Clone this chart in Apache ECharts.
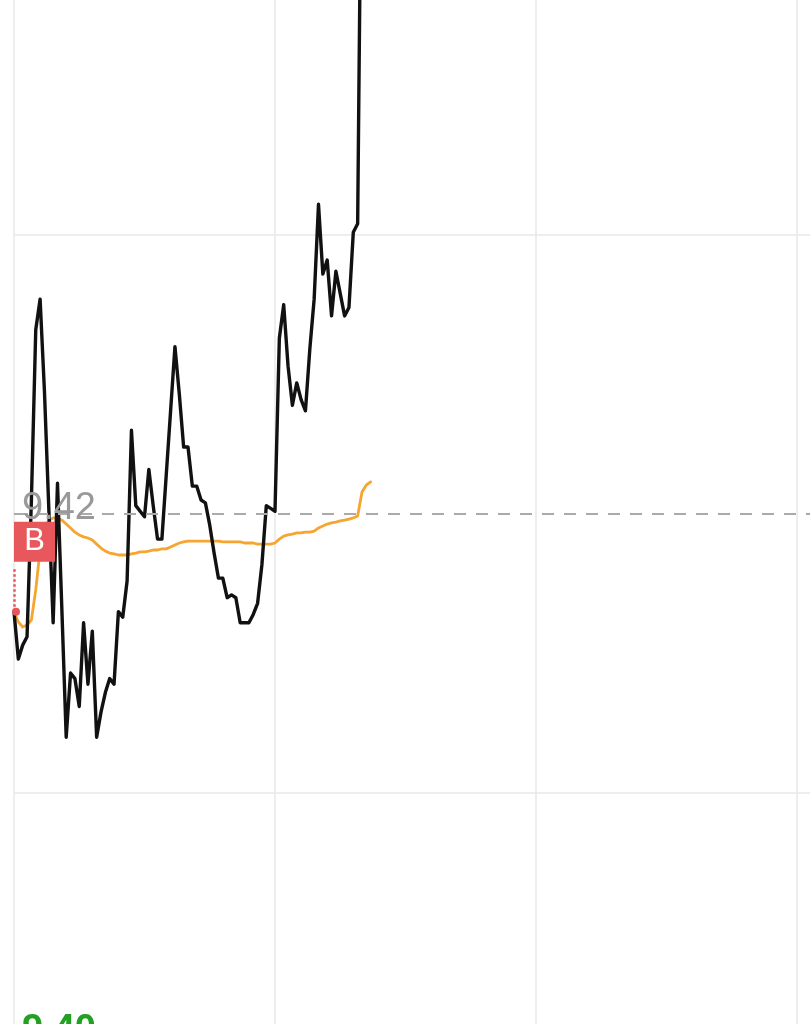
<!DOCTYPE html>
<html>
<head>
<meta charset="utf-8">
<script src="https://cdn.jsdelivr.net/npm/echarts@6/dist/echarts.min.js"></script>
<style>
html,body{margin:0;padding:0;background:#fff;}
#chart{width:810px;height:1024px;}
</style>
</head>
<body>
<div id="chart"></div>
<script>
// Intraday minute prices (index = minute from open)
const price = [
  9.4165, 9.4148, 9.4153, 9.4156, 9.4205, 9.4266, 9.4277, 9.4244, 9.4202, 9.4161,
  9.4211, 9.4166, 9.4120, 9.4143, 9.4141, 9.4131, 9.4161, 9.4139, 9.4158, 9.4120,
  9.4129, 9.4136, 9.4141, 9.4139, 9.4165, 9.4163, 9.4176, 9.4230, 9.4203, 9.4201,
  9.4199, 9.4216, 9.4203, 9.4191, 9.4191, 9.4214, 9.4237, 9.4260, 9.4243, 9.4224,
  9.4224, 9.4210, 9.4210, 9.4205, 9.4204, 9.4196, 9.4186, 9.4177, 9.4177, 9.4170,
  9.4171, 9.4170, 9.4161, 9.4161, 9.4161, 9.4164, 9.4168, 9.4182, 9.4203, 9.4202,
  9.4201, 9.4263, 9.4275, 9.4253, 9.4239, 9.4247, 9.4241, 9.4237, 9.4259, 9.4277,
  9.4311, 9.4286, 9.4291, 9.4271, 9.4287, 9.4279, 9.4271, 9.4274, 9.4301, 9.4304,
  9.4470, 9.4480, 9.4475
];
// Average price line
const avgPrice = [
  9.41649, 9.41613, 9.41595, 9.41602, 9.41620, 9.41728, 9.41871, 9.41950, 9.41978, 9.41986,
  9.41986, 9.41978, 9.41964, 9.41950, 9.41935, 9.41925, 9.41918, 9.41914, 9.41907, 9.41892,
  9.41878, 9.41867, 9.41860, 9.41857, 9.41853, 9.41853, 9.41853, 9.41857, 9.41860, 9.41864,
  9.41864, 9.41867, 9.41871, 9.41871, 9.41875, 9.41875, 9.41882, 9.41889, 9.41896, 9.41900,
  9.41903, 9.41903, 9.41903, 9.41903, 9.41903, 9.41903, 9.41903, 9.41903, 9.41900, 9.41900,
  9.41900, 9.41900, 9.41900, 9.41896, 9.41896, 9.41896, 9.41892, 9.41892, 9.41892, 9.41892,
  9.41896, 9.41910, 9.41921, 9.41925, 9.41928, 9.41932, 9.41932, 9.41935, 9.41935, 9.41939,
  9.41950, 9.41957, 9.41964, 9.41968, 9.41971, 9.41975, 9.41978, 9.41982, 9.41986, 9.41993,
  9.42079, 9.42104, 9.42115
];
const prevClose = 9.42;
const yMin = 9.40, yMax = 9.44, yStep = 0.01;
const totalMinutes = 240, xStep = 60;
const buyIndex = 0;
const buyLabel = 'B';

const chart = echarts.init(document.getElementById('chart'));
const FONT = '"Liberation Sans", Arial, sans-serif';

chart.setOption({
  animation: false,
  backgroundColor: '#fff',
  grid: { left: 14, top: -44, width: 1044, height: 1116, containLabel: false, outerBoundsMode: 'none' },
  xAxis: {
    type: 'value', min: 0, max: totalMinutes, interval: xStep,
    axisLine: { show: false }, axisTick: { show: false }, axisLabel: { show: false },
    splitLine: { show: true, lineStyle: { color: '#e9e9e9', width: 1.5 } }
  },
  yAxis: {
    type: 'value', min: yMin, max: yMax, interval: yStep, scale: true,
    axisLine: { show: false }, axisTick: { show: false },
    axisLabel: {
      inside: true, showMinLabel: true,
      formatter: function (v) { return Math.abs(v - yMin) < 1e-6 ? yMin.toFixed(2) : ''; },
      color: '#22a022', fontSize: 38, fontWeight: 'bold', fontFamily: FONT,
      verticalAlign: 'bottom', margin: 8, padding: [0, 0, 22, 0]
    },
    splitLine: { show: true, lineStyle: { color: ['#e9e9e9', '#e9e9e9', 'rgba(0,0,0,0)', '#e9e9e9', '#e9e9e9'], width: 1.5 } }
  },
  series: [
    {
      name: 'avg', type: 'line', showSymbol: false, symbol: 'none',
      data: avgPrice.map((v, i) => [i, v]),
      lineStyle: { color: '#F5A530', width: 2.8, join: 'round', cap: 'round' },
      z: 3
    },
    {
      name: 'price', type: 'line', showSymbol: false, symbol: 'none',
      data: price.map((v, i) => [i, v]),
      lineStyle: { color: '#111', width: 3.4, join: 'round', cap: 'round' },
      z: 4,
      markLine: {
        silent: true, symbol: 'none',
        data: [
          {
            yAxis: prevClose,
            lineStyle: { color: '#aaa', type: [12, 10], width: 2 },
            label: {
              show: true, position: 'insideStartTop', formatter: prevClose.toFixed(2),
              color: '#999', fontSize: 38, fontFamily: FONT, distance: [8, -14]
            }
          },
          [
            { coord: [buyIndex, price[buyIndex]], lineStyle: { color: '#e8545a', type: 'dotted', width: 2.5 }, label: { show: false } },
            { coord: [buyIndex, price[buyIndex] + 0.0016] }
          ]
        ]
      },
      markPoint: {
        silent: true,
        data: [
          {
            coord: [buyIndex, price[buyIndex]],
            symbol: 'rect', symbolSize: [41, 40], symbolOffset: [20.5, -70],
            itemStyle: { color: '#e8575b' },
            label: { show: true, formatter: buyLabel, color: '#fff', fontSize: 31, fontFamily: FONT, position: 'inside' }
          },
          {
            coord: [buyIndex, price[buyIndex]],
            symbol: 'circle', symbolSize: 8, symbolOffset: [2, 0],
            itemStyle: { color: '#e8545a' },
            label: { show: false }
          }
        ]
      }
    }
  ]
});
</script>
</body>
</html>
